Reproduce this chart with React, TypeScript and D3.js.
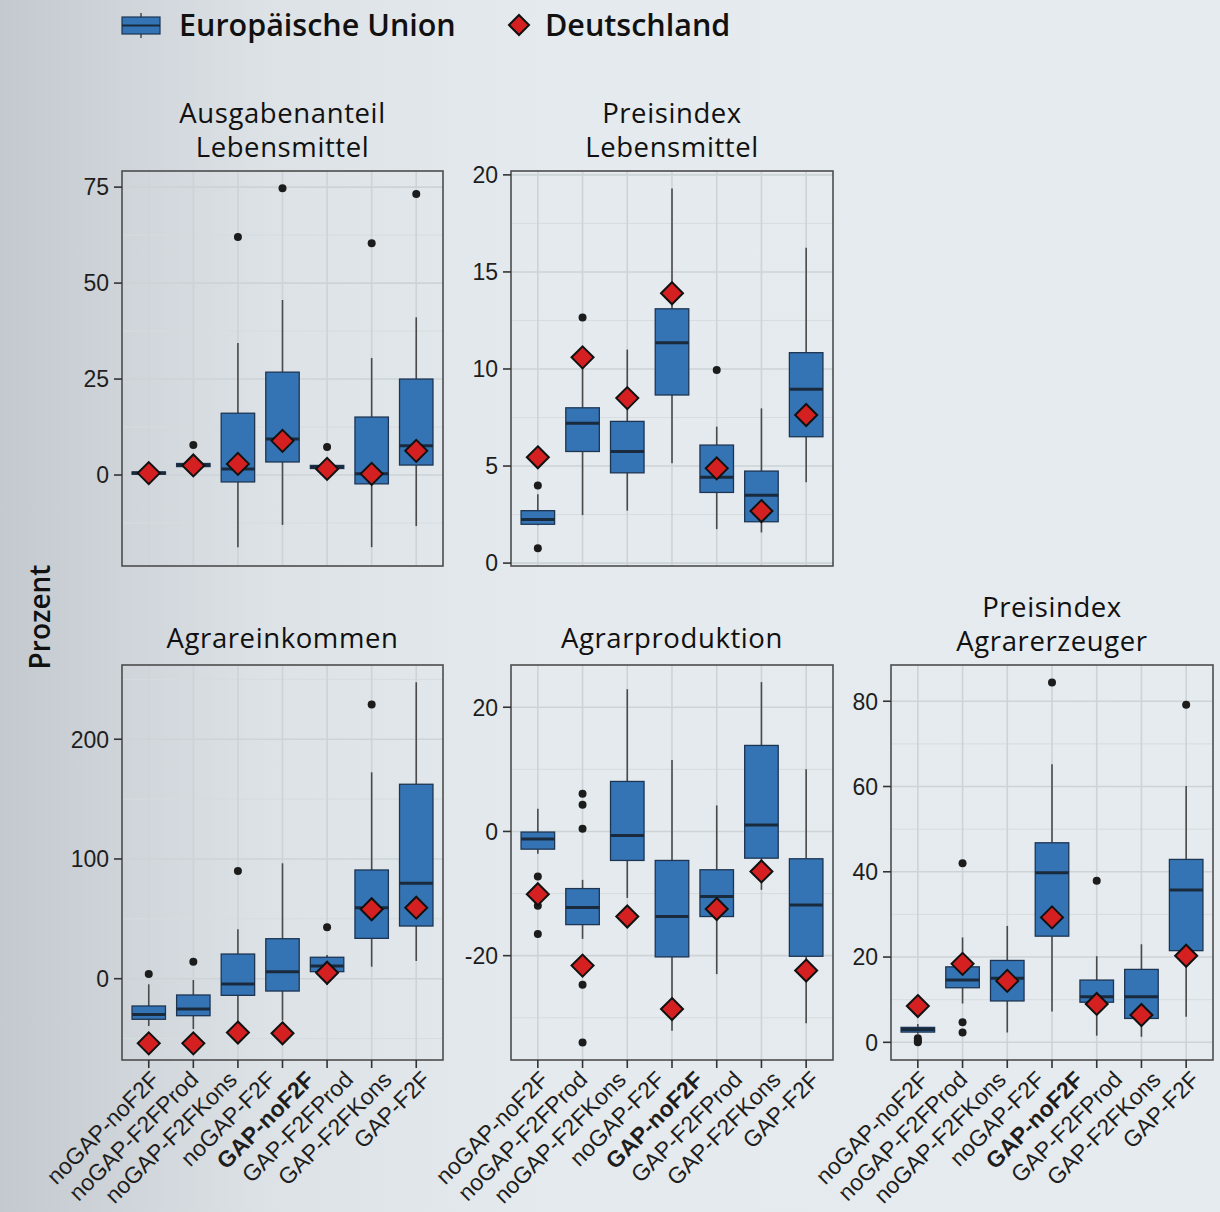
import React from "react";
import * as d3 from "d3";

// ---------- data ----------
const scenarioLabels = [
  "noGAP-noF2F",
  "noGAP-F2FProd",
  "noGAP-F2FKons",
  "noGAP-F2F",
  "GAP-noF2F",
  "GAP-F2FProd",
  "GAP-F2FKons",
  "GAP-F2F",
];
const boldLabel = "GAP-noF2F";
const boxSlots = ["b1", "b2", "b3", "b4", "b5", "b6", "b7"];

const legendLabels = ["Europäische Union", "Deutschland"];
const yAxisTitle = "Prozent";

// box stats: [lowerWhisker, q1, median, q3, upperWhisker]
const ausgabenTitle = ["Ausgabenanteil", "Lebensmittel"];
const ausgabenDomain = [-23.7, 79.2];
const ausgabenTicks = [0, 25, 50, 75];
const ausgabenMinor = [-12.5, 12.5, 37.5, 62.5];
const ausgabenBoxes = [
  [0.1, 0.2, 0.5, 0.8, 0.9],
  [1.8, 2.2, 2.6, 3.0, 3.6],
  [-18.8, -1.8, 1.6, 16.1, 34.4],
  [-13, 3.4, 9.4, 26.8, 45.6],
  [1.2, 1.7, 2.1, 2.5, 3.0],
  [-18.8, -2.3, 0.3, 15.1, 30.5],
  [-13.3, 2.6, 7.6, 25, 41.1],
];
const ausgabenOutliers = [[], [7.8], [62], [74.7], [7.3], [60.4], [73.2]];
const ausgabenDE = [0.5, 2.5, 2.9, 8.9, 1.6, 0.3, 6.3];

const preisLmTitle = ["Preisindex", "Lebensmittel"];
const preisLmDomain = [-0.15, 20.2];
const preisLmTicks = [0, 5, 10, 15, 20];
const preisLmMinor = [2.5, 7.5, 12.5, 17.5];
const preisLmBoxes = [
  [1.95, 2.0, 2.25, 2.7, 3.55],
  [2.47, 5.75, 7.2, 8.0, 10.4],
  [2.7, 4.65, 5.75, 7.3, 11.0],
  [5.14, 8.66, 11.35, 13.1, 19.3],
  [1.75, 3.64, 4.42, 6.08, 7.03],
  [1.58, 2.13, 3.5, 4.74, 7.97],
  [4.16, 6.51, 8.95, 10.84, 16.25],
];
const preisLmOutliers = [[4.0, 0.77], [12.65], [], [], [9.95], [], []];
const preisLmDE = [5.45, 10.6, 8.5, 13.9, 4.88, 2.68, 7.63];

const einkommenTitle = ["Agrareinkommen"];
const einkommenDomain = [-67.9, 262];
const einkommenTicks = [0, 100, 200];
const einkommenMinor = [-50, 50, 150, 250];
const einkommenBoxes = [
  [-39.5, -33.9, -29.8, -22.8, -4.7],
  [-42, -30.9, -25.3, -13.6, -1.1],
  [-40, -13.9, -4.4, 20.6, 41.2],
  [-35, -10.3, 5.9, 33.4, 96.4],
  [-5.3, 5.9, 10.6, 17.9, 19.8],
  [10, 33.7, 59.3, 90.8, 172.4],
  [14.8, 44, 79.7, 162.4, 247.6],
];
const einkommenOutliers = [[3.9], [14.2], [90], [], [42.9], [229], []];
const einkommenDE = [-54, -54, -45, -45.6, 5, 58, 59.3];

const produktionTitle = ["Agrarproduktion"];
const produktionDomain = [-36.8, 26.8];
const produktionTicks = [-20, 0, 20];
const produktionMinor = [-30, -10, 10];
const produktionBoxes = [
  [-3.6, -2.85, -1.23, -0.1, 3.65],
  [-17.3, -15.0, -12.24, -9.2, -7.8],
  [-10.7, -4.67, -0.64, 8.05, 22.9],
  [-32.1, -20.2, -13.7, -4.67, 11.5],
  [-22.97, -13.7, -10.47, -6.17, 4.19],
  [-9.4, -4.3, 1.02, 13.85, 24.05],
  [-30.9, -20.1, -11.86, -4.4, 10.0],
];
const produktionOutliers = [
  [-7.25, -11.97, -16.5],
  [6.07, 4.3, 0.43, -24.7, -34],
  [],
  [],
  [],
  [],
  [],
];
const produktionDE = [-10.1, -21.6, -13.7, -28.6, -12.5, -6.44, -22.4];

const erzeugerTitle = ["Preisindex", "Agrarerzeuger"];
const erzeugerDomain = [-4.15, 88.5];
const erzeugerTicks = [0, 20, 40, 60, 80];
const erzeugerMinor = [10, 30, 50, 70];
const erzeugerBoxes = [
  [2.0, 2.4, 3.0, 3.5, 4.3],
  [9.1, 12.8, 14.6, 17.7, 24.6],
  [2.3, 9.7, 15.0, 19.2, 27.3],
  [7.2, 24.9, 39.8, 46.8, 65.2],
  [1.56, 9.4, 10.7, 14.6, 20.2],
  [1.3, 5.6, 10.7, 17.1, 23.0],
  [6.0, 21.5, 35.7, 42.9, 60.1],
];
const erzeugerOutliers = [[0.94, 0, 0.4], [42, 4.7, 2.3], [], [84.4], [37.9], [], [79.2]];
const erzeugerDE = [8.5, 18.4, 14.4, 29.3, 9.0, 6.4, 20.3];

// ---------- style / layout ----------
const W = 1220;
const H = 1212;
const BOX_FILL = "#3574b4";
const BOX_STROKE = "#1d3553";
const MEDIAN = "#1a2a3d";
const DE_FILL = "#d42020";
const TITLE_FONT = "'Open Sans', sans-serif";
const AXIS_FONT = "'Liberation Sans', Arial, sans-serif";

const panels = [
  { title: ausgabenTitle, domain: ausgabenDomain, ticks: ausgabenTicks, minor: ausgabenMinor, boxes: ausgabenBoxes, outliers: ausgabenOutliers, de: ausgabenDE, x: 122, y: 171, w: 321, h: 395, xAxis: false },
  { title: preisLmTitle, domain: preisLmDomain, ticks: preisLmTicks, minor: preisLmMinor, boxes: preisLmBoxes, outliers: preisLmOutliers, de: preisLmDE, x: 511, y: 171, w: 322, h: 395, xAxis: false },
  { title: einkommenTitle, domain: einkommenDomain, ticks: einkommenTicks, minor: einkommenMinor, boxes: einkommenBoxes, outliers: einkommenOutliers, de: einkommenDE, x: 122, y: 665, w: 321, h: 395, xAxis: true },
  { title: produktionTitle, domain: produktionDomain, ticks: produktionTicks, minor: produktionMinor, boxes: produktionBoxes, outliers: produktionOutliers, de: produktionDE, x: 511, y: 665, w: 322, h: 395, xAxis: true },
  { title: erzeugerTitle, domain: erzeugerDomain, ticks: erzeugerTicks, minor: erzeugerMinor, boxes: erzeugerBoxes, outliers: erzeugerOutliers, de: erzeugerDE, x: 891, y: 665, w: 322, h: 395, xAxis: true },
];

function diamondPath(cx: number, cy: number, r: number) {
  return `M${cx},${cy - r}L${cx + r},${cy}L${cx},${cy + r}L${cx - r},${cy}Z`;
}

function Panel({ p }: { p: any }) {
  const x = d3.scalePoint<string>().domain(boxSlots).range([p.x, p.x + p.w]).padding(0.6);
  const y = d3.scaleLinear().domain(p.domain).range([p.y + p.h, p.y]);
  const bw = x.step() * 0.75;
  const labelX = d3
    .scalePoint<string>()
    .domain(scenarioLabels)
    .range([p.x + 39, p.x + 39 + 7 * 38.7]);
  const nTitle = p.title.length;
  const titleBase = nTitle === 1 ? p.y - 17 : p.y - 14 - (nTitle - 1) * 34;
  return (
    <g>
      {/* titles */}
      {p.title.map((t: string, i: number) => (
        <text
          key={t + i}
          x={p.x + p.w / 2}
          y={titleBase + i * 34}
          textAnchor="middle"
          fontFamily={TITLE_FONT}
          fontSize={27.5}
          letterSpacing={0.6}
          fill="#111"
        >
          {t}
        </text>
      ))}
      {/* grid */}
      {p.minor.map((v: number) => (
        <line key={"mn" + v} x1={p.x} x2={p.x + p.w} y1={y(v)} y2={y(v)} stroke="#d6dcdf" strokeWidth={1} />
      ))}
      {p.ticks.map((v: number) => (
        <line key={"mj" + v} x1={p.x} x2={p.x + p.w} y1={y(v)} y2={y(v)} stroke="#cdd3d7" strokeWidth={1.6} />
      ))}
      {boxSlots.map((s) => (
        <line key={"vx" + s} x1={x(s)} x2={x(s)} y1={p.y} y2={p.y + p.h} stroke="#cdd3d7" strokeWidth={1.6} />
      ))}
      {/* boxes */}
      {boxSlots.map((s, i) => {
        const [lo, q1, med, q3, hi] = p.boxes[i];
        const cx = x(s) as number;
        return (
          <g key={"bx" + s}>
            <line x1={cx} x2={cx} y1={y(hi)} y2={y(q3)} stroke="#4a4a4a" strokeWidth={1.6} />
            <line x1={cx} x2={cx} y1={y(q1)} y2={y(lo)} stroke="#4a4a4a" strokeWidth={1.6} />
            <rect x={cx - bw / 2} y={y(q3)} width={bw} height={Math.max(0.5, y(q1) - y(q3))} fill={BOX_FILL} stroke={BOX_STROKE} strokeWidth={1.3} />
            <line x1={cx - bw / 2} x2={cx + bw / 2} y1={y(med)} y2={y(med)} stroke={MEDIAN} strokeWidth={3} />
            {p.outliers[i].map((o: number, j: number) => (
              <circle key={j} cx={cx} cy={y(o)} r={4} fill="#1c1c1c" />
            ))}
          </g>
        );
      })}
      {boxSlots.map((s, i) => (
        <path key={"de" + s} d={diamondPath(x(s) as number, y(p.de[i]), 11)} fill={DE_FILL} stroke="#111" strokeWidth={2} strokeLinejoin="miter" />
      ))}
      {/* border */}
      <rect x={p.x} y={p.y} width={p.w} height={p.h} fill="none" stroke="#4d4d4d" strokeWidth={1.6} />
      {/* y axis */}
      {p.ticks.map((v: number) => (
        <g key={"yt" + v}>
          <line x1={p.x - 8} x2={p.x} y1={y(v)} y2={y(v)} stroke="#333" strokeWidth={1.6} />
          <text x={p.x - 13} y={y(v)} dy="0.36em" textAnchor="end" fontFamily={AXIS_FONT} fontSize={23} fill="#1e1e1e">
            {v}
          </text>
        </g>
      ))}
      {/* x axis */}
      {p.xAxis &&
        boxSlots.map((s) => (
          <line key={"xt" + s} x1={x(s)} x2={x(s)} y1={p.y + p.h} y2={p.y + p.h + 8} stroke="#333" strokeWidth={1.6} />
        ))}
      {p.xAxis &&
        scenarioLabels.map((l) => (
          <text
            key={"xl" + l}
            transform={`translate(${labelX(l)},${p.y + p.h + 21}) rotate(-45)`}
            textAnchor="end"
            fontFamily={AXIS_FONT}
            fontSize={23}
            fontWeight={l === boldLabel ? "bold" : "normal"}
            fill="#1e1e1e"
          >
            {l}
          </text>
        ))}
    </g>
  );
}

export default function App() {
  return (
    <svg width={W} height={H} style={{ position: "absolute", left: 0, top: 0 }} xmlns="http://www.w3.org/2000/svg">
      <defs>
        <linearGradient id="bg" x1="0" x2="1" y1="0" y2="0">
          <stop offset="0" stopColor="#c3c9ce" />
          <stop offset="0.22" stopColor="#dce2e6" />
          <stop offset="0.45" stopColor="#e4eaed" />
          <stop offset="1" stopColor="#e5ebee" />
        </linearGradient>
      </defs>
      <rect x={0} y={0} width={W} height={H} fill="url(#bg)" />
      {/* legend */}
      <g>
        <line x1={141} x2={141} y1={13} y2={38} stroke="#4a4a4a" strokeWidth={1.5} />
        <rect x={122} y={17} width={38} height={17} fill={BOX_FILL} stroke={BOX_STROKE} strokeWidth={1.2} />
        <line x1={122} x2={160} y1={25.5} y2={25.5} stroke={MEDIAN} strokeWidth={2} />
        <text x={179} y={36} fontFamily={TITLE_FONT} fontSize={30.5} fontWeight={600} fill="#111">
          {legendLabels[0]}
        </text>
        <path d={diamondPath(519, 25, 10)} fill={DE_FILL} stroke="#111" strokeWidth={2} />
        <text x={545} y={36} fontFamily={TITLE_FONT} fontSize={30.5} fontWeight={600} fill="#111">
          {legendLabels[1]}
        </text>
      </g>
      <text
        transform="translate(50,617) rotate(-90)"
        textAnchor="middle"
        fontFamily={TITLE_FONT}
        fontSize={28}
        fontWeight={600}
        fill="#111"
      >
        {yAxisTitle}
      </text>
      {panels.map((p, i) => (
        <Panel key={i} p={p} />
      ))}
    </svg>
  );
}
